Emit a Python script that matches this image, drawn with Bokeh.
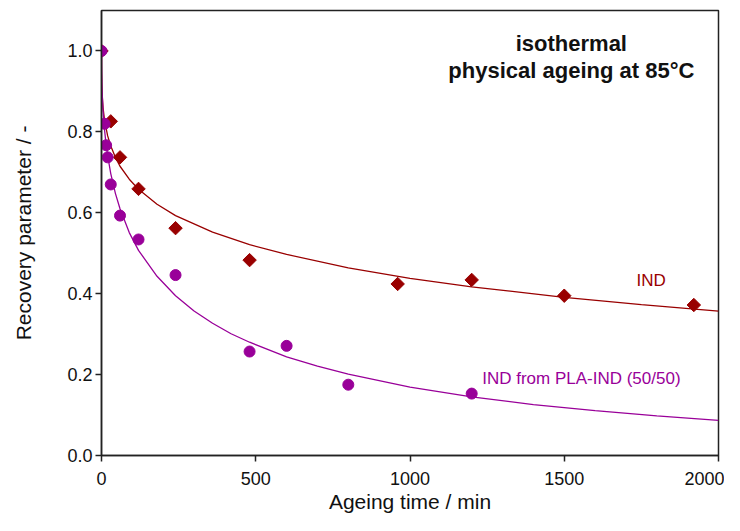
import numpy as np
from bokeh.plotting import figure
from bokeh.models import Range1d, FixedTicker, PrintfTickFormatter, Label
from bokeh.embed import file_html
from bokeh.resources import INLINE

ind_time = [0, 30, 60, 120, 240, 480, 960, 1200, 1500, 1920]
ind_recovery = [1.0, 0.826, 0.737, 0.659, 0.562, 0.483, 0.424, 0.434, 0.395, 0.372]

pla_ind_time = [0, 10, 15, 20, 30, 60, 120, 240, 480, 600, 800, 1200]
pla_ind_recovery = [1.0, 0.820, 0.767, 0.737, 0.670, 0.593, 0.534, 0.446, 0.257, 0.271, 0.175, 0.153]

# ---- fitted curves ----
ind_fit_time = [0, 0.2, 1, 2, 5, 10, 20, 30, 45, 60, 90, 120, 180, 240, 360, 480,
                600, 800, 1000, 1200, 1500, 1750, 2000]
ind_fit_recovery = [1.0, 0.947, 0.914, 0.893, 0.860, 0.828, 0.790, 0.765, 0.737, 0.715,
                    0.683, 0.658, 0.621, 0.593, 0.552, 0.521, 0.497, 0.464, 0.438,
                    0.417, 0.391, 0.373, 0.357]

pla_fit_time = [0, 0.2, 1, 2, 5, 10, 15, 20, 30, 45, 60, 90, 120, 180, 240, 300, 360,
                420, 480, 600, 700, 800, 1000, 1200, 1400, 1600, 1800, 2000]
pla_fit_recovery = [1.0, 0.964, 0.926, 0.900, 0.852, 0.804, 0.768, 0.741, 0.697, 0.648,
                    0.610, 0.551, 0.507, 0.443, 0.395, 0.357, 0.327, 0.301, 0.280,
                    0.244, 0.221, 0.201, 0.169, 0.145, 0.126, 0.111, 0.098, 0.087]

x_ticks = [0, 500, 1000, 1500, 2000]
y_ticks = [0.0, 0.2, 0.4, 0.6, 0.8, 1.0]

IND_COLOR = "#990000"
PLA_COLOR = "#990099"
FONT = "Liberation Sans"

p = figure(width=724, height=515, output_backend="svg", toolbar_location=None,
           x_range=Range1d(0, 2000), y_range=Range1d(0, 1.1),
           min_border_left=101, min_border_right=6, min_border_top=10, min_border_bottom=59)

p.xgrid.visible = False
p.ygrid.visible = False
p.outline_line_color = "#222222"
p.outline_line_width = 1.5
p.outline_line_alpha = 1.0
p.background_fill_color = "white"
p.border_fill_color = "white"

for ax in (p.xaxis[0], p.yaxis[0]):
    ax.axis_line_color = "#222222"
    ax.axis_line_width = 1.5
    ax.major_tick_line_color = "#222222"
    ax.major_tick_line_width = 1.5
    ax.major_tick_out = 6
    ax.major_tick_in = 0
    ax.minor_tick_line_color = None
    ax.major_label_text_font = FONT
    ax.major_label_text_font_size = "18px"
    ax.major_label_text_color = "#111111"
    ax.axis_label_text_font = FONT
    ax.axis_label_text_font_size = "21px"
    ax.axis_label_text_font_style = "normal"
    ax.axis_label_text_color = "#111111"

p.xaxis.ticker = FixedTicker(ticks=x_ticks)
p.yaxis.ticker = FixedTicker(ticks=y_ticks)
p.yaxis.formatter = PrintfTickFormatter(format="%.1f")
p.xaxis.axis_label = "Ageing time / min"
p.yaxis.axis_label = "Recovery parameter / -"
p.xaxis.major_label_standoff = 10
p.xaxis.major_label_text_line_height = 0.8
p.xaxis.axis_label_text_line_height = 0.8
p.yaxis.major_label_standoff = 3
p.xaxis.axis_label_standoff = 2
p.yaxis.axis_label_standoff = 29

# fitted lines
p.line(ind_fit_time, ind_fit_recovery, line_color=IND_COLOR, line_width=1.3)
p.line(pla_fit_time, pla_fit_recovery, line_color=PLA_COLOR, line_width=1.3)

# data points
p.scatter(ind_time, ind_recovery, marker="square", angle=np.pi / 4, size=9.5,
          fill_color=IND_COLOR, line_color=IND_COLOR)
p.scatter(pla_ind_time, pla_ind_recovery, marker="circle", size=11,
          fill_color=PLA_COLOR, line_color=PLA_COLOR)

# annotations
p.add_layout(Label(x=1734, y=0.432, text="IND", text_color=IND_COLOR,
                   text_font=FONT, text_font_size="17px", text_baseline="alphabetic"))
p.add_layout(Label(x=1234, y=0.190, text="IND from PLA-IND (50/50)", text_color=PLA_COLOR,
                   text_font=FONT, text_font_size="17px", text_baseline="alphabetic"))
p.add_layout(Label(x=1523, y=1.018, text="isothermal", text_color="#111111",
                   text_font=FONT, text_font_size="22px", text_font_style="bold",
                   text_align="center", text_baseline="alphabetic"))
p.add_layout(Label(x=1523, y=0.951, text="physical ageing at 85°C", text_color="#111111",
                   text_font=FONT, text_font_size="22px", text_font_style="bold",
                   text_align="center", text_baseline="alphabetic"))

open("out.html", "w").write(file_html(p, INLINE))
